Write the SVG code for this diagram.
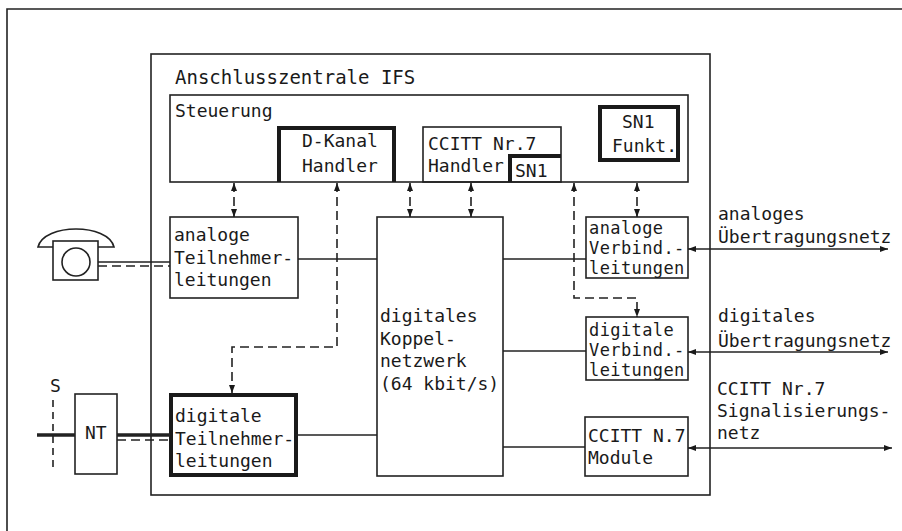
<svg xmlns="http://www.w3.org/2000/svg" width="902" height="531" viewBox="0 0 902 531">
<style>
.t{font-family:"DejaVu Sans Mono","Liberation Mono",monospace;font-size:18px;fill:#1a1a1a}
.s{font-size:17px;letter-spacing:0.4px}
.b{fill:#fff;stroke:#222;stroke-width:1.6}
.n{fill:none;stroke:#222;stroke-width:1.6}
.k{fill:none;stroke:#1a1a1a;stroke-width:4}
.l{fill:none;stroke:#222;stroke-width:1.6}
.d{fill:none;stroke:#222;stroke-width:1.6;stroke-dasharray:9 5}
</style>
<defs>
<marker id="a" viewBox="0 0 8 6" refX="8" refY="3" markerWidth="8" markerHeight="6" markerUnits="userSpaceOnUse" orient="auto-start-reverse">
<path d="M0,0 L8,3 L0,6 z" fill="#1a1a1a"/>
</marker>
</defs>
<g id="frame">
<path class="l" d="M7,531 V9 H902"/>
</g>
<g id="zentrale">
<rect class="n" x="151" y="54" width="559" height="441"/>
<text class="t" x="175" y="84" style="font-size:19px">Anschlusszentrale IFS</text>
</g>
<g id="steuerung">
<rect class="n" x="170" y="95" width="518" height="87"/>
<text class="t" x="175" y="117">Steuerung</text>
</g>
<g id="dkanal">
<path class="k" d="M279,182 V128 H394 V182"/>
<text class="t" x="302" y="147">D-Kanal</text>
<text class="t" x="302" y="172">Handler</text>
</g>
<g id="ccitt-handler">
<rect class="n" x="423" y="127" width="138" height="55"/>
<text class="t" x="428" y="150">CCITT Nr.7</text>
<text class="t" x="428" y="172">Handler</text>
</g>
<g id="sn1">
<path class="k" d="M510,182 V156 H561"/>
<text class="t" x="515" y="177">SN1</text>
</g>
<g id="sn1funkt">
<rect class="k" x="600" y="107" width="78" height="53"/>
<text class="t" x="622" y="128">SN1</text>
<text class="t" x="612" y="152">Funkt.</text>
</g>
<g id="phone">
<path class="n" d="M38,247 C44,223 108,223 114,247 Z"/>
<rect class="b" x="53" y="241" width="45" height="39"/>
<circle class="n" cx="76" cy="262" r="14"/>
</g>
<g id="analog-tln">
<rect class="n" x="170" y="217" width="128" height="81"/>
<text class="t" x="174" y="241">analoge</text>
<text class="t" x="174" y="264">Teilnehmer-</text>
<text class="t" x="174" y="286">leitungen</text>
</g>
<g id="koppel">
<rect class="n" x="377" y="217" width="126" height="259"/>
<text class="t" x="380" y="322">digitales</text>
<text class="t" x="380" y="345">Koppel-</text>
<text class="t" x="380" y="367">netzwerk</text>
<text class="t" x="380" y="390">(64 kbit/s)</text>
</g>
<g id="analog-vbl">
<rect class="n" x="586" y="217" width="102" height="61"/>
<text class="t s" x="589" y="234">analoge</text>
<text class="t s" x="589" y="254">Verbind.-</text>
<text class="t s" x="589" y="274">leitungen</text>
</g>
<g id="digital-vbl">
<rect class="n" x="586" y="317" width="102" height="63"/>
<text class="t s" x="589" y="336">digitale</text>
<text class="t s" x="589" y="356">Verbind.-</text>
<text class="t s" x="589" y="376">leitungen</text>
</g>
<g id="ccitt-module">
<rect class="n" x="585" y="417" width="103" height="59"/>
<text class="t" x="588" y="442">CCITT N.7</text>
<text class="t" x="588" y="464">Module</text>
</g>
<g id="digital-tln">
<rect class="k" x="171" y="395" width="125" height="80"/>
<text class="t" x="175" y="422">digitale</text>
<text class="t" x="175" y="445">Teilnehmer-</text>
<text class="t" x="175" y="467">leitungen</text>
</g>
<g id="nt">
<rect class="n" x="75" y="394" width="42" height="80"/>
<text class="t" x="85" y="439">NT</text>
</g>
<g id="s-point">
<text class="t" x="50" y="392">S</text>
<path class="d" style="stroke-dasharray:7 5" d="M53,400 V468"/>
</g>
<g id="labels">
<text class="t" x="718" y="220">analoges</text>
<text class="t" x="718" y="243">Übertragungsnetz</text>
<text class="t" x="718" y="322">digitales</text>
<text class="t" x="718" y="347">Übertragungsnetz</text>
<text class="t" x="717" y="395">CCITT Nr.7</text>
<text class="t" x="717" y="417">Signalisierungs-</text>
<text class="t" x="717" y="439">netz</text>
</g>
<g id="connectors">
<path class="l" d="M98,262 H170"/>
<path class="d" d="M98,266 H170"/>
<path class="l" style="stroke-width:3.5" d="M37,435 H75 M117,435 H170"/>
<path class="d" d="M117,440 H170"/>
<path class="l" d="M298,259 H377"/>
<path class="l" d="M503,259 H586"/>
<path class="l" d="M503,351 H586"/>
<path class="l" d="M296,435 H377"/>
<path class="l" d="M503,447 H585"/>
<path class="d" d="M234,183 V217" marker-start="url(#a)" marker-end="url(#a)"/>
<path class="d" d="M410,183 V217" marker-start="url(#a)" marker-end="url(#a)"/>
<path class="d" d="M471,183 V217" marker-start="url(#a)" marker-end="url(#a)"/>
<path class="d" d="M637,183 V217" marker-start="url(#a)" marker-end="url(#a)"/>
<path class="d" d="M337,183 V347 H232 V393" marker-start="url(#a)" marker-end="url(#a)"/>
<path class="d" d="M574,183 V298 H637 V317" marker-start="url(#a)" marker-end="url(#a)"/>
<path class="l" d="M688,249 H888" marker-start="url(#a)" marker-end="url(#a)"/>
<path class="l" d="M688,352 H888" marker-start="url(#a)" marker-end="url(#a)"/>
<path class="l" d="M688,448 H892" marker-start="url(#a)" marker-end="url(#a)"/>
</g>
</svg>
